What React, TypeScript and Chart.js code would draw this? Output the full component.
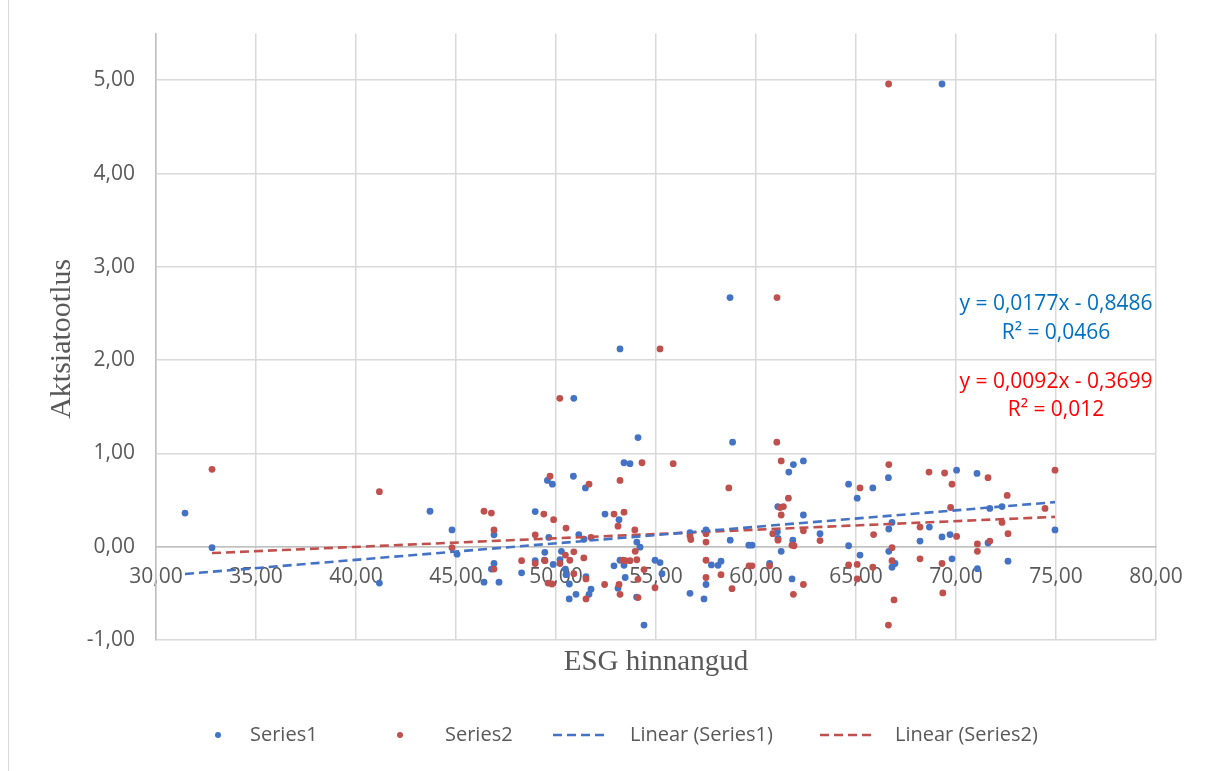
import React, { useEffect, useRef } from "react";
import { Chart, registerables } from "chart.js";

Chart.register(...registerables);

const xTicks = [30, 35, 40, 45, 50, 55, 60, 65, 70, 75, 80];
const yTicks = [-1, 0, 1, 2, 3, 4, 5];

const series1X = [
  31.45, 32.8, 41.17, 43.7, 44.8, 45.05, 46.4, 53.2, 50.89, 54.1,
  53.4, 53.7, 49.57, 49.82, 50.87, 51.47, 48.96, 52.45, 53.15, 46.9,
  49.64, 51.14, 51.4, 54.04, 54.2, 49.44, 50.27, 48.96, 49.42, 50.2,
  49.86, 46.9, 46.77, 47.15, 48.28, 50.47, 50.67, 51.5, 51.75, 51.65,
  51.0, 50.66, 52.9, 53.2, 53.4, 53.46, 53.1, 54.03, 54.4, 54.95,
  55.2, 55.3, 56.7, 57.4, 56.7, 57.5, 57.77, 58.1, 58.25, 57.5,
  58.7, 58.83, 61.87, 62.37, 61.64, 61.09, 62.37, 64.63, 65.06, 65.84,
  66.62, 66.8, 66.64, 61.07, 61.1, 61.84, 63.2, 61.26, 58.71, 59.64,
  59.8, 60.68, 61.8, 64.63, 65.2, 66.64, 66.8, 66.95, 68.2, 68.67,
  69.3, 69.3, 70.03, 71.05, 69.7, 69.8, 71.07, 71.69, 72.3, 74.95,
  71.6, 72.6, 50.5
];
const series1Y = [
  0.36, -0.01, -0.39, 0.38, 0.18, -0.08, -0.38, 2.12, 1.59, 1.17,
  0.9, 0.89, 0.71, 0.67, 0.755, 0.63, 0.377, 0.35, 0.29, 0.127,
  0.1, 0.13, 0.08, 0.05, -0.005, -0.06, -0.05, -0.15, -0.145, -0.14,
  -0.19, -0.18, -0.24, -0.38, -0.28, -0.24, -0.4, -0.32, -0.455, -0.51,
  -0.51, -0.56, -0.205, -0.145, -0.2, -0.33, -0.445, -0.54, -0.84, -0.145,
  -0.17, -0.29, -0.5, -0.56, 0.15, 0.18, -0.195, -0.2, -0.155, -0.405,
  2.67, 1.12, 0.88, 0.92, 0.8, 0.43, 0.34, 0.67, 0.52, 0.63,
  0.74, 0.26, 0.19, 0.16, 0.09, 0.07, 0.14, -0.05, 0.07, 0.016,
  0.016, -0.18, -0.345, 0.01, -0.09, -0.05, -0.22, -0.18, 0.06, 0.21,
  0.105, 4.96, 0.82, 0.785, 0.13, -0.13, -0.235, 0.41, 0.43, 0.18,
  0.04, -0.155, -0.3
];

const series2X = [
  32.8, 41.17, 44.8, 46.4, 55.2, 50.19, 54.3, 55.86, 49.7, 51.65,
  53.2, 46.77, 49.39, 49.88, 52.9, 53.4, 53.1, 50.5, 46.9, 48.96,
  51.75, 53.94, 53.96, 50.47, 50.89, 48.28, 48.96, 49.45, 50.2, 50.69,
  51.39, 46.9, 50.89, 49.6, 49.8, 51.5, 51.5, 52.43, 53.35, 53.47,
  53.7, 54.04, 53.15, 53.2, 54.4, 54.1, 54.1, 54.95, 56.74, 56.7,
  57.5, 57.5, 57.5, 57.5, 58.25, 58.64, 61.05, 61.04, 61.26, 61.62,
  61.2, 61.37, 61.26, 65.2, 66.64, 65.88, 60.84, 61.1, 61.8, 61.9,
  62.37, 63.2, 59.65, 59.8, 60.68, 61.87, 62.37, 58.8, 64.63, 65.06,
  65.84, 65.06, 66.8, 66.8, 66.9, 66.62, 68.2, 68.65, 69.43, 68.2,
  69.3, 69.34, 66.63, 69.8, 69.73, 70.03, 71.07, 71.07, 71.6, 72.56,
  74.95, 74.45, 72.3, 72.6, 71.69
];
const series2Y = [
  0.83, 0.59, -0.01, 0.38, 2.12, 1.59, 0.9, 0.89, 0.755, 0.67,
  0.71, 0.36, 0.35, 0.29, 0.35, 0.37, 0.22, 0.2, 0.18, 0.127,
  0.1, 0.18, -0.05, -0.09, -0.055, -0.15, -0.18, -0.15, -0.18, -0.145,
  -0.12, -0.24, -0.29, -0.39, -0.4, -0.345, -0.56, -0.405, -0.145, -0.15,
  -0.15, -0.14, -0.405, -0.51, -0.245, -0.35, -0.545, -0.44, 0.077, 0.115,
  0.14, 0.05, -0.145, -0.33, -0.3, 0.63, 2.67, 1.12, 0.92, 0.52,
  0.42, 0.43, 0.34, 0.63, 0.88, 0.13, 0.14, 0.07, 0.016, 0.01,
  0.17, 0.066, -0.205, -0.205, -0.205, -0.51, -0.405, -0.45, -0.195, -0.19,
  -0.22, -0.345, -0.01, -0.15, -0.57, -0.84, 0.21, 0.8, 0.79, -0.13,
  -0.18, -0.495, 4.96, 0.67, 0.42, 0.11, 0.03, -0.05, 0.74, 0.55,
  0.82, 0.41, 0.26, 0.14, 0.06
];

const trend1 = { slope: 0.0177, intercept: -0.8486, r2: "0,0466" };
const trend2 = { slope: 0.0092, intercept: -0.3699, r2: "0,012" };

const seriesNames = ["Series1", "Series2", "Linear (Series1)", "Linear (Series2)"];
const axisTitleX = "ESG hinnangud";
const axisTitleY = "Aktsiatootlus";

const BLUE = "#4472C4";
const RED = "#C0504D";
const TEXT = "#595959";
const FONT = "'Open Sans', sans-serif";

const fmt = (v: number) => v.toFixed(2).replace(".", ",");
const fmtCoef = (v: number, d: number) => Math.abs(v).toFixed(d).replace(".", ",");

function trendPoints(xs: number[], t: { slope: number; intercept: number }) {
  const lo = Math.min(...xs);
  const hi = Math.max(...xs);
  return [
    { x: lo, y: t.slope * lo + t.intercept },
    { x: hi, y: t.slope * hi + t.intercept },
  ];
}

const decorPlugin = {
  id: "decor",
  afterDraw(chart: any) {
    const ctx = chart.ctx;
    const xs = chart.scales.x;
    const ys = chart.scales.y;
    const area = chart.chartArea;
    ctx.save();

    // left border of chart frame
    ctx.strokeStyle = "#d9d9d9";
    ctx.lineWidth = 1;
    ctx.beginPath();
    ctx.moveTo(8.5, 0);
    ctx.lineTo(8.5, chart.height);
    ctx.stroke();

    // axis titles
    ctx.fillStyle = TEXT;
    ctx.textAlign = "center";
    ctx.textBaseline = "middle";
    ctx.font = "29px 'Liberation Serif', serif";
    ctx.fillText(axisTitleX, (area.left + area.right) / 2, 662);
    ctx.save();
    ctx.font = "30px 'Liberation Serif', serif";
    ctx.translate(62, (area.top + area.bottom) / 2 + 2);
    ctx.rotate(-Math.PI / 2);
    ctx.fillText(axisTitleY, 0, 0);
    ctx.restore();

    // trendline equations
    ctx.font = `21px ${FONT}`;
    const cx = xs.getPixelForValue(75);
    ctx.fillStyle = "#0070C0";
    ctx.fillText(
      `y = ${fmtCoef(trend1.slope, 4)}x ${trend1.intercept < 0 ? "-" : "+"} ${fmtCoef(trend1.intercept, 4)}`,
      cx, ys.getPixelForValue(2.6)
    );
    ctx.fillText(`R² = ${trend1.r2}`, cx, ys.getPixelForValue(2.29));
    ctx.fillStyle = "#FF0000";
    ctx.fillText(
      `y = ${fmtCoef(trend2.slope, 4)}x ${trend2.intercept < 0 ? "-" : "+"} ${fmtCoef(trend2.intercept, 4)}`,
      cx, ys.getPixelForValue(1.77)
    );
    ctx.fillText(`R² = ${trend2.r2}`, cx, ys.getPixelForValue(1.46));

    // legend
    const ly = 735;
    ctx.font = `20px ${FONT}`;
    ctx.textAlign = "left";
    ctx.fillStyle = BLUE;
    ctx.beginPath();
    ctx.arc(218, ly, 3, 0, Math.PI * 2);
    ctx.fill();
    ctx.fillStyle = RED;
    ctx.beginPath();
    ctx.arc(400, ly, 3, 0, Math.PI * 2);
    ctx.fill();
    ctx.lineWidth = 2.5;
    ctx.setLineDash([9, 5]);
    ctx.strokeStyle = BLUE;
    ctx.beginPath();
    ctx.moveTo(553, ly);
    ctx.lineTo(605, ly);
    ctx.stroke();
    ctx.strokeStyle = RED;
    ctx.beginPath();
    ctx.moveTo(820, ly);
    ctx.lineTo(872, ly);
    ctx.stroke();
    ctx.setLineDash([]);
    ctx.fillStyle = TEXT;
    ctx.fillText(seriesNames[0], 250, ly);
    ctx.fillText(seriesNames[1], 445, ly);
    ctx.fillText(seriesNames[2], 630, ly);
    ctx.fillText(seriesNames[3], 895, ly);

    ctx.restore();
  },
};

export default function App() {
  const ref = useRef<HTMLCanvasElement | null>(null);

  useEffect(() => {
    if (!ref.current) return;
    const tickFont = { family: FONT, size: 21 };
    const chart = new Chart(ref.current, {
      type: "scatter",
      data: {
        datasets: [
          {
            type: "line",
            label: seriesNames[2],
            data: trendPoints(series1X, trend1),
            borderColor: BLUE,
            borderWidth: 2.6,
            borderDash: [9, 5],
            pointRadius: 0,
            fill: false,
            order: 0,
          },
          {
            type: "line",
            label: seriesNames[3],
            data: trendPoints(series2X, trend2),
            borderColor: RED,
            borderWidth: 2.6,
            borderDash: [9, 5],
            pointRadius: 0,
            fill: false,
            order: 0,
          },
          {
            label: seriesNames[1],
            data: series2X.map((x, i) => ({ x, y: series2Y[i] })),
            backgroundColor: RED,
            borderWidth: 0,
            pointRadius: 3.4,
            order: 1,
          },
          {
            label: seriesNames[0],
            data: series1X.map((x, i) => ({ x, y: series1Y[i] })),
            backgroundColor: BLUE,
            borderWidth: 0,
            pointRadius: 3.4,
            order: 2,
          },
        ],
      } as any,
      options: {
        animation: false,
        responsive: false,
        layout: { padding: { left: 0, right: 53, top: 33, bottom: 131 } },
        plugins: { legend: { display: false }, tooltip: { enabled: false } },
        scales: {
          x: {
            type: "linear",
            min: 30,
            max: 80,
            position: { y: 0 } as any,
            afterBuildTicks: (s: any) => {
              s.ticks = xTicks.map((v) => ({ value: v }));
            },
            ticks: {
              callback: (v: any) => fmt(Number(v)),
              font: tickFont,
              color: TEXT,
              padding: 18,
              maxRotation: 0,
              autoSkip: false,
            },
            grid: { color: "#d9d9d9", lineWidth: 1.5, drawTicks: false },
            border: { color: "#bfbfbf", width: 1.5 },
          },
          y: {
            type: "linear",
            min: -1,
            max: 5.5,
            position: "left",
            afterBuildTicks: (s: any) => {
              s.ticks = yTicks.map((v) => ({ value: v }));
            },
            afterFit: (s: any) => {
              s.width = 156;
            },
            ticks: {
              callback: (v: any) => fmt(Number(v)),
              font: tickFont,
              color: TEXT,
              padding: 21,
            },
            grid: { color: "#d9d9d9", lineWidth: 1.5, drawTicks: false },
            border: { color: "#bfbfbf", width: 1.5 },
          },
        },
      } as any,
      plugins: [decorPlugin],
    });
    return () => chart.destroy();
  }, []);

  return (
    <div style={{ position: "absolute", left: 0, top: 0, width: 1209, height: 771, background: "#fff" }}>
      <canvas ref={ref} width={1209} height={771} style={{ width: 1209, height: 771, display: "block" }} />
    </div>
  );
}
